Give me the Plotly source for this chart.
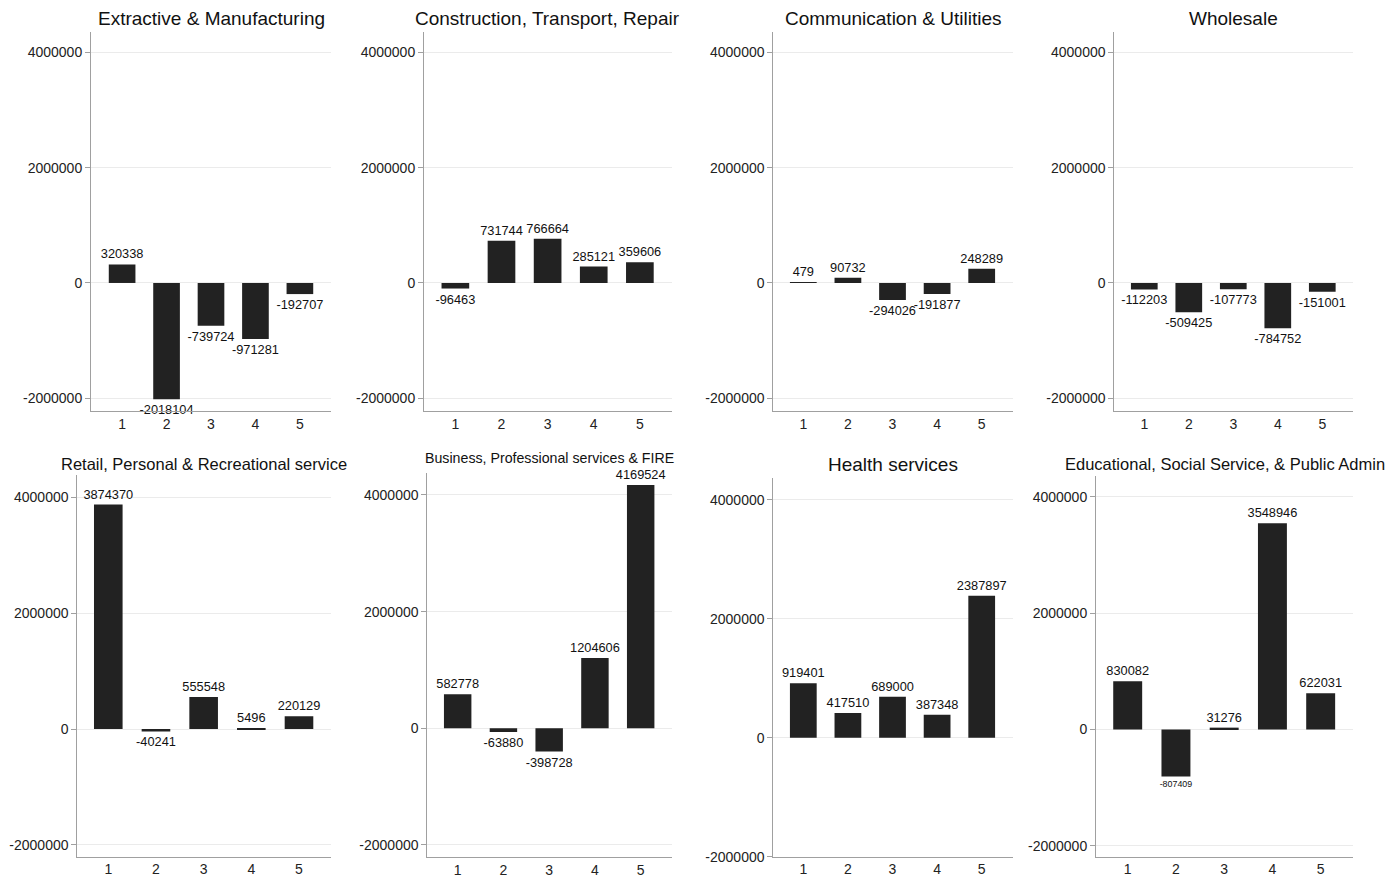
import plotly.graph_objects as go

# ---------------- data ----------------
categories = [1, 2, 3, 4, 5]

titles = [
    "Extractive & Manufacturing",
    "Construction, Transport, Repair",
    "Communication & Utilities",
    "Wholesale",
    "Retail, Personal & Recreational service",
    "Business, Professional services & FIRE",
    "Health services",
    "Educational, Social Service, & Public Admin",
]

extractive = [320338, -2018104, -739724, -971281, -192707]
construction = [-96463, 731744, 766664, 285121, 359606]
communication = [479, 90732, -294026, -191877, 248289]
wholesale = [-112203, -509425, -107773, -784752, -151001]
retail = [3874370, -40241, 555548, 5496, 220129]
business = [582778, -63880, -398728, 1204606, 4169524]
health = [919401, 417510, 689000, 387348, 2387897]
education = [830082, -807409, 31276, 3548946, 622031]

series = [extractive, construction, communication, wholesale,
          retail, business, health, education]

y_tickvals = [-2000000, 0, 2000000, 4000000]
y_ticktext = ["-2000000", "0", "2000000", "4000000"]

# ---------------- layout geometry ----------------
SY = 1 / 0.991          # vertical compensation
W, H = 1393, 886
# (left, right, top, bottom) of each plot area, target pixels
boxes = [
    (91, 331, 32, 411),
    (424, 671.7, 32, 411),
    (773.3, 1012.7, 32, 411),
    (1114.3, 1353.3, 32, 411),
    (77.3, 330.7, 475, 856.7),
    (427.3, 671.7, 473, 857.3),
    (773.3, 1012.7, 478.3, 856.7),
    (1096, 1353, 476, 856.7),
]
y_ranges = [
    (-2220000, 4352000), (-2220000, 4352000), (-2220000, 4352000), (-2220000, 4352000),
    (-2202000, 4385000), (-2211000, 4377000), (-2000000, 4365000), (-2189000, 4361000),
]
x_ranges = [
    (0.30, 5.70), (0.32, 5.69), (0.327, 5.695), (0.326, 5.697),
    (0.35, 5.665), (0.336, 5.678), (0.327, 5.695), (0.343, 5.67),
]
title_sizes = [19, 19, 19, 19, 16.5, 14.2, 19, 16.5]
title_bottoms = [31, 31, 31, 31, 475.5, 467.7, 477, 474.8]


def px_x(v):
    return v / W


def px_y(v):
    return 1 - v * SY / H


FONT = "Arial, Liberation Sans, sans-serif"
BAR = "#222222"
AXIS = "#a0a0a0"
GRID = "#ebebeb"

fig = go.Figure()
annotations = []
for i, vals in enumerate(series):
    n = i + 1
    sfx = "" if n == 1 else str(n)
    label_sizes = [12.8] * len(vals)
    if i == 7:
        label_sizes[1] = 8.9
    fig.add_trace(go.Bar(
        x=categories, y=vals, width=0.6,
        marker=dict(color=BAR, line=dict(width=0)),
        text=[str(v) for v in vals],
        textposition="outside",
        textfont=dict(size=label_sizes, color="#111111", family=FONT),
        constraintext="none",
        cliponaxis=False,
        xaxis="x" + sfx, yaxis="y" + sfx,
        showlegend=False, hoverinfo="x+y",
    ))
    l, r, t, b = boxes[i]
    fig.layout["xaxis" + sfx] = dict(
        domain=[px_x(l), px_x(r)], anchor="y" + sfx,
        range=list(x_ranges[i]), tickvals=categories,
        showgrid=False, zeroline=False, showline=True,
        linecolor=AXIS, linewidth=1, ticks="",
        tickfont=dict(size=14, color="#222222", family=FONT),
        fixedrange=True,
    )
    fig.layout["yaxis" + sfx] = dict(
        domain=[px_y(b), px_y(t)], anchor="x" + sfx,
        range=list(y_ranges[i]), tickvals=y_tickvals, ticktext=y_ticktext,
        showgrid=True, gridcolor=GRID, gridwidth=1,
        zeroline=False, showline=True, linecolor=AXIS, linewidth=1,
        ticks="outside", ticklen=5, tickcolor=AXIS,
        tickfont=dict(size=14, color="#222222", family=FONT),
        fixedrange=True,
    )
    annotations.append(dict(
        text=titles[i], xref="paper", yref="paper",
        x=px_x((l + r) / 2), y=px_y(title_bottoms[i]),
        xanchor="center", yanchor="bottom", showarrow=False,
        font=dict(size=title_sizes[i], color="#111111", family=FONT),
    ))

fig.update_layout(
    width=W, height=H,
    margin=dict(l=0, r=0, t=0, b=0),
    paper_bgcolor="white", plot_bgcolor="white",
    font=dict(family=FONT, color="#222222"),
    annotations=annotations,
    bargap=0.4,
)

fig.write_html(
    "out.html",
    config={"displayModeBar": False},
    post_script="document.body.style.margin='0';document.body.style.overflow='hidden';",
)
